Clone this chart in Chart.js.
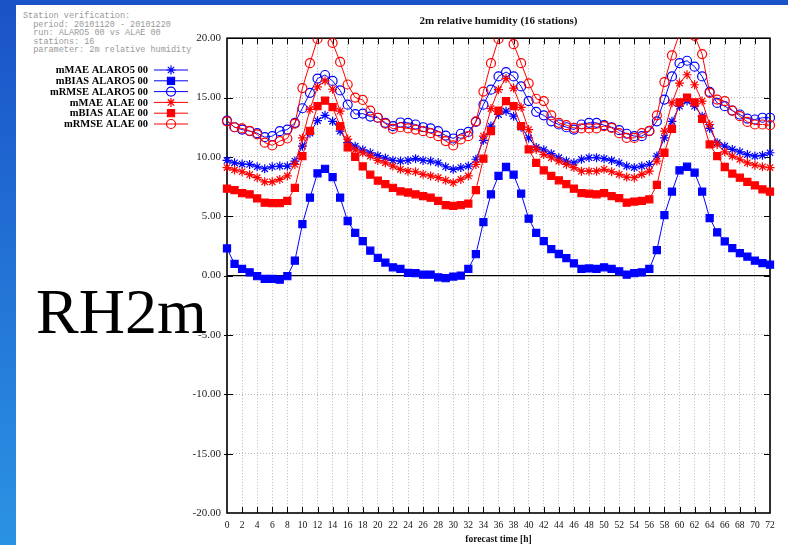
<!DOCTYPE html>
<html>
<head>
<meta charset="utf-8">
<script src="https://cdn.jsdelivr.net/npm/chart.js@4"></script>
<style>
  html, body { margin: 0; padding: 0; }
  body {
    width: 788px; height: 545px; overflow: hidden; position: relative;
    background: linear-gradient(to bottom, #1a52c8, #2b93e3);
  }
  #panel { position: absolute; left: 16px; top: 5px; right: 0; bottom: 0; background: #fff; }
  #myChart { position: absolute; left: 0; top: 0; }
  #info {
    position: absolute; left: 23px; top: 12px;
    font: 8.5px "Liberation Mono", monospace; line-height: 8.6px;
    color: #999; white-space: pre;
  }
  #big {
    position: absolute; left: 36px; top: 280px;
    font: 64px "Liberation Serif", serif; line-height: 64px; color: #000;
  }
</style>
</head>
<body>
<div id="panel"></div>
<div id="info">Station verification:
  period: 20101120 - 20101220
  run: ALARO5 00 vs ALAE 00
  stations: 16
  parameter: 2m relative humidity</div>
<canvas id="myChart" width="788" height="545"></canvas>
<div id="big">RH2m</div>
<script>
const hours = [0, 1, 2, 3, 4, 5, 6, 7, 8, 9, 10, 11, 12, 13, 14, 15, 16, 17, 18, 19, 20, 21, 22, 23,
  24, 25, 26, 27, 28, 29, 30, 31, 32, 33, 34, 35, 36, 37, 38, 39, 40, 41, 42, 43, 44, 45, 46, 47,
  48, 49, 50, 51, 52, 53, 54, 55, 56, 57, 58, 59, 60, 61, 62, 63, 64, 65, 66, 67, 68, 69, 70, 71, 72];

const maeAlaro = [9.7, 9.5, 9.4, 9.37, 9.17, 9.0, 9.17, 9.23, 9.23, 9.65, 10.9, 12.0, 13.06, 13.5, 13.0, 12.17, 11.2, 10.9, 10.6, 10.35, 10.1, 9.9, 9.7, 9.65,
  9.7, 9.85, 9.7, 9.65, 9.5, 9.17, 8.95, 9.1, 9.23, 9.8, 11.4, 12.6, 13.57, 13.85, 13.43, 12.5, 11.6, 10.8, 10.6, 10.27, 9.93, 9.65, 9.5, 9.8,
  9.93, 9.93, 9.85, 9.7, 9.5, 9.23, 9.1, 9.23, 9.37, 10.07, 11.6, 13.0, 14.27, 14.7, 14.27, 13.43, 12.4, 11.2, 10.9, 10.63, 10.43, 10.2, 10.07, 10.13, 10.35];
const biasAlaro = [2.29, 0.98, 0.56, 0.28, -0.05, -0.28, -0.28, -0.34, -0.05, 1.26, 4.34, 6.57, 8.62, 9.0, 8.3, 6.57, 4.6, 3.6, 2.9, 2.1, 1.5, 1.1, 0.7, 0.56,
  0.22, 0.2, 0.08, 0.08, -0.14, -0.22, -0.08, 0.0, 0.56, 1.8, 4.5, 6.85, 8.4, 9.15, 8.5, 6.9, 4.8, 3.6, 2.9, 2.24, 1.82, 1.48, 1.03, 0.56,
  0.6, 0.56, 0.7, 0.56, 0.36, 0.08, 0.2, 0.28, 0.56, 2.15, 5.1, 7.08, 8.87, 9.17, 8.67, 7.08, 4.84, 3.64, 2.88, 2.32, 1.9, 1.6, 1.26, 1.06, 0.92];
const rmseAlaro = [13.06, 12.5, 12.3, 12.17, 12.0, 11.66, 11.75, 12.17, 12.3, 12.87, 14.1, 15.4, 16.6, 16.9, 16.4, 15.6, 14.4, 13.6, 13.65, 13.4, 13.3, 12.87, 12.6, 12.9,
  12.87, 12.73, 12.5, 12.4, 12.17, 11.8, 11.55, 11.95, 12.1, 12.95, 14.4, 15.66, 16.78, 17.15, 16.78, 15.94, 14.7, 13.8, 13.5, 13.0, 12.73, 12.5, 12.3, 12.73,
  12.87, 12.87, 12.67, 12.5, 12.25, 11.95, 11.75, 11.75, 12.17, 13.0, 14.83, 16.78, 17.9, 18.1, 17.6, 16.78, 15.47, 14.55, 14.27, 13.9, 13.57, 13.23, 13.15, 13.3, 13.3];
const maeAlae = [9.1, 8.9, 8.75, 8.5, 8.25, 7.9, 7.9, 8.1, 8.4, 9.37, 11.6, 14.0, 15.9, 16.4, 15.7, 13.85, 11.5, 10.6, 10.35, 10.07, 9.7, 9.5, 9.23, 8.95,
  8.8, 8.75, 8.53, 8.4, 8.25, 8.03, 7.83, 8.1, 8.4, 9.37, 11.75, 14.07, 15.66, 16.6, 15.8, 14.18, 12.3, 10.63, 10.2, 9.93, 9.65, 9.37, 9.1, 8.8,
  8.8, 8.8, 8.95, 8.75, 8.53, 8.3, 8.25, 8.53, 8.8, 9.65, 12.17, 14.55, 16.22, 16.92, 16.08, 14.7, 12.73, 11.05, 10.43, 10.07, 9.8, 9.5, 9.3, 9.17, 9.1];
const biasAlae = [7.33, 7.2, 6.94, 6.85, 6.5, 6.15, 6.1, 6.1, 6.3, 7.4, 10.07, 12.2, 14.27, 14.74, 14.2, 12.6, 10.8, 10.0, 9.2, 8.5, 8.0, 7.7, 7.4, 7.1,
  7.0, 6.85, 6.7, 6.57, 6.3, 5.93, 5.87, 5.93, 6.07, 7.2, 9.85, 12.17, 13.9, 14.7, 14.27, 12.6, 10.63, 9.5, 8.87, 8.4, 8.03, 7.7, 7.33, 6.94,
  6.9, 6.85, 6.94, 6.7, 6.52, 6.15, 6.24, 6.3, 6.43, 7.64, 10.35, 12.36, 14.6, 15.0, 14.6, 13.2, 11.05, 10.07, 9.15, 8.6, 8.25, 7.9, 7.6, 7.27, 7.08];
const rmseAlae = [13.0, 12.5, 12.4, 12.2, 11.9, 11.2, 10.97, 11.33, 11.55, 12.8, 15.8, 17.9, 19.94, 20.6, 19.6, 18.0, 16.1, 15.0, 14.8, 13.9, 13.3, 12.8, 12.36, 12.5,
  12.4, 12.3, 12.17, 12.0, 11.75, 11.33, 10.97, 11.47, 11.75, 13.0, 15.5, 17.9, 19.94, 20.6, 19.5, 17.9, 16.2, 14.9, 14.7, 13.5, 12.87, 12.67, 12.45, 12.4,
  12.4, 12.4, 12.6, 12.45, 12.0, 11.6, 11.6, 12.0, 12.2, 13.5, 16.3, 18.55, 20.4, 21.0, 20.2, 18.66, 15.4, 14.83, 14.7, 13.9, 13.43, 12.95, 12.73, 12.73, 12.67];

const BLUE = 'rgb(0,0,255)';
const RED = 'rgb(255,0,0)';
const SERIF = '"Liberation Serif", "Times New Roman", serif';

function series(label, values, color, style, radius, fill) {
  return {
    label: label,
    data: values.map((v, i) => ({ x: hours[i], y: v })),
    borderColor: color,
    borderWidth: 1,
    pointStyle: style,
    pointRadius: radius,
    pointBorderWidth: 1.2,
    pointBorderColor: color,
    pointBackgroundColor: fill,
    backgroundColor: fill,
    tension: 0,
    fill: false,
    clip: { left: 8, right: 8, top: 0, bottom: 0 }
  };
}

const datasets = [
  series('mMAE ALARO5 00', maeAlaro, BLUE, 'star', 4.5, BLUE),
  series('mBIAS ALARO5 00', biasAlaro, BLUE, 'rect', 5, BLUE),
  series('mRMSE ALARO5 00', rmseAlaro, BLUE, 'circle', 4.5, 'rgba(0,0,0,0)'),
  series('mMAE ALAE 00', maeAlae, RED, 'star', 4.5, RED),
  series('mBIAS ALAE 00', biasAlae, RED, 'rect', 5, RED),
  series('mRMSE ALAE 00', rmseAlae, RED, 'circle', 4.5, 'rgba(0,0,0,0)')
];
// later series drawn on top, like gnuplot
datasets.forEach((d, i) => { d.order = datasets.length - i; });

// frame with inward ticks
const framePlugin = {
  id: 'frame',
  beforeDatasetsDraw(chart) {
    const { ctx, chartArea: a, scales } = chart;
    ctx.save();
    ctx.strokeStyle = '#000';
    ctx.lineWidth = 1;
    ctx.beginPath();
    for (let h = 2; h < 72; h += 2) {
      const x = Math.round(scales.x.getPixelForValue(h)) + 0.5;
      ctx.moveTo(x, a.bottom); ctx.lineTo(x, a.bottom - 6);
      ctx.moveTo(x, a.top); ctx.lineTo(x, a.top + 6);
    }
    for (let v = -15; v <= 15; v += 5) {
      const y = Math.round(scales.y.getPixelForValue(v)) + 0.5;
      ctx.moveTo(a.left - 3, y); ctx.lineTo(a.left + 6, y);
      ctx.moveTo(a.right, y); ctx.lineTo(a.right - 6, y);
    }
    ctx.stroke();
    ctx.lineWidth = 1.6;
    ctx.strokeRect(a.left, a.top, a.right - a.left, a.bottom - a.top);
    ctx.restore();
  }
};

// gnuplot style key: label right aligned, sample on the right
const keyPlugin = {
  id: 'key',
  afterDraw(chart) {
    const ctx = chart.ctx;
    ctx.save();
    ctx.font = 'bold 10.5px ' + SERIF;
    ctx.textAlign = 'right';
    ctx.textBaseline = 'middle';
    chart.data.datasets.forEach((d, i) => {
      const y = 70 + i * 10.8;
      ctx.fillStyle = '#000';
      ctx.fillText(d.label, 148, y + 0.5);
      ctx.strokeStyle = d.borderColor;
      ctx.lineWidth = 1;
      ctx.beginPath();
      ctx.moveTo(154, y); ctx.lineTo(188, y);
      ctx.stroke();
      ctx.fillStyle = d.pointBackgroundColor;
      ctx.lineWidth = d.pointBorderWidth;
      Chart.helpers.drawPoint(ctx, {
        pointStyle: d.pointStyle, radius: d.pointRadius,
        borderWidth: d.pointBorderWidth, rotation: 0
      }, 171, y);
    });
    ctx.restore();
  }
};

const ctx = document.getElementById('myChart');

new Chart(ctx, {
  type: 'line',
  data: { datasets: datasets },
  options: {
    responsive: false,
    animation: false,
    events: [],
    layout: { padding: { left: 167, right: 18, top: 0, bottom: 0 } },
    scales: {
      x: {
        type: 'linear',
        min: 0,
        max: 72,
        afterFit: (axis) => { axis.height = 32; },
        ticks: { stepSize: 2, autoSkip: false, maxRotation: 0, padding: 7, color: '#111', font: { family: SERIF, size: 9.5 } },
        grid: { color: '#b8b8b8', lineWidth: 1, drawTicks: false },
        border: { display: false, dash: [1, 2] },
        title: { display: true, text: 'forecast time [h]', color: '#111', padding: { top: 0, bottom: 0 }, font: { family: SERIF, size: 9.5, weight: 'bold' } }
      },
      y: {
        min: -20,
        max: 20,
        afterFit: (axis) => { axis.width = 60; },
        ticks: { stepSize: 5, padding: 6, color: '#222', font: { family: SERIF, size: 11 }, callback: (v) => v.toFixed(2) },
        grid: {
          drawTicks: false,
          color: (c) => c.tick && c.tick.value === 0 ? '#000' : (c.tick && Math.abs(c.tick.value) === 20 ? 'rgba(0,0,0,0)' : '#b8b8b8'),
          lineWidth: (c) => c.tick && c.tick.value === 0 ? 1.2 : 1
        },
        border: { display: false, dash: (c) => c.tick && c.tick.value === 0 ? [] : [1, 2] }
      }
    },
    plugins: {
      legend: { display: false },
      tooltip: { enabled: false },
      title: {
        display: true,
        text: '2m relative humidity (16 stations)',
        fullSize: false,
        color: '#111',
        padding: { top: 15, bottom: 10 },
        font: { family: SERIF, size: 11, weight: 'bold' }
      }
    }
  },
  plugins: [framePlugin, keyPlugin]
});
</script>
</body>
</html>
